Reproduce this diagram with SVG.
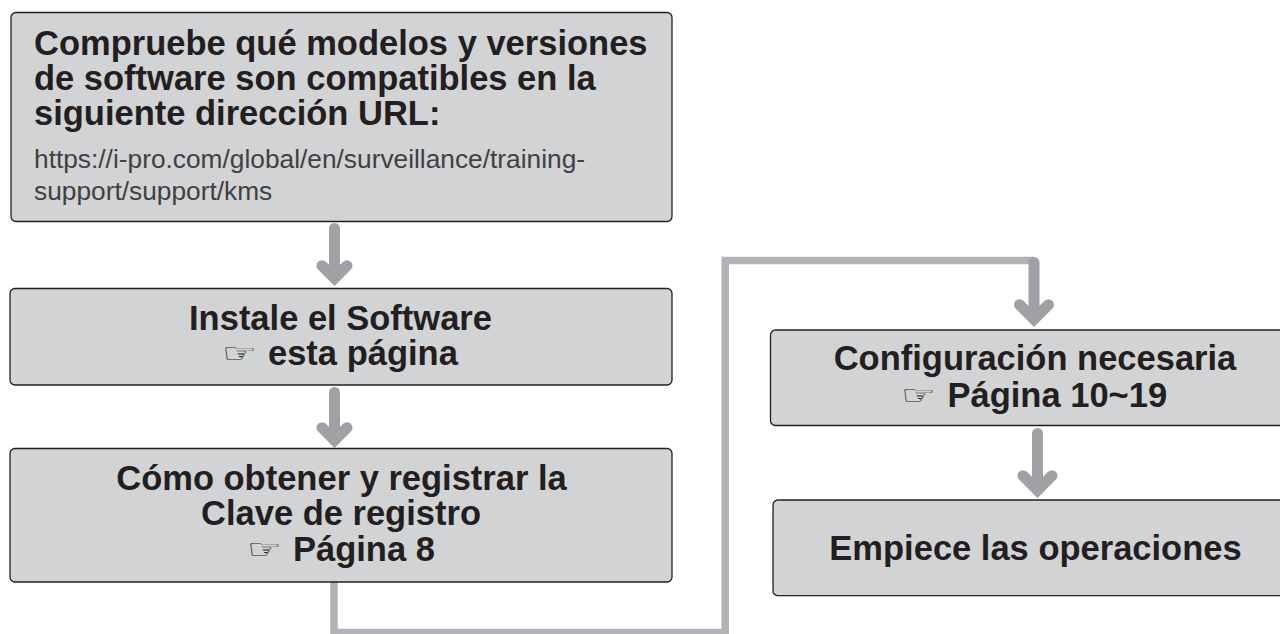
<svg xmlns="http://www.w3.org/2000/svg" width="1280" height="634" viewBox="0 0 1280 634">
<style>
.box{fill:#d1d3d4;stroke:#231f20;stroke-width:1.3}
.t{font-family:"Liberation Sans",Arial,sans-serif;font-weight:700;font-size:34.500px;fill:#231f20}
.c{text-anchor:middle}
.u{font-family:"Liberation Sans",Arial,sans-serif;font-size:26.300px;fill:#414042}
.h{font-family:"DejaVu Sans",sans-serif;font-size:26px;fill:#231f20}
.line{fill:none;stroke:#b1b3b6;stroke-width:7.500}
.shaft{fill:none;stroke:#a0a1a5;stroke-width:11;stroke-linecap:round}
.head{fill:none;stroke:#a0a1a5;stroke-width:11;stroke-linecap:round;stroke-linejoin:miter}
</style>
<defs>
<path id="arrow" class="head" d="M-12.500 -20.300L0 -7.800L12.500 -20.300"/>
<path id="arrow-large" class="head" d="M-14.500 -22.300L0 -7.800L14.500 -22.300"/>
</defs>
<g id="connectors">
<path class="line" d="M334 582V632.500H725.200V260.500H1034"/>
<path class="shaft" d="M334.500 228.500V278"/><use href="#arrow" x="334.500" y="286"/>
<path class="shaft" d="M334.500 392.500V440"/><use href="#arrow" x="334.500" y="448"/>
<path class="shaft" d="M1034 262.500V319"/><use href="#arrow-large" x="1034" y="327"/>
<path class="shaft" d="M1037.500 433.500V490"/><use href="#arrow-large" x="1037.500" y="498"/>
</g>
<g id="node1">
<rect class="box" x="11" y="12.500" width="661" height="209" rx="5"/>
<text class="t" x="34" y="54.500">Compruebe qué modelos y versiones</text>
<text class="t" x="34" y="89.500">de software son compatibles en la</text>
<text class="t" x="34" y="125">siguiente dirección URL:</text>
<text class="u" x="34" y="168">https://i-pro.com/global/en/surveillance/training-</text>
<text class="u" x="34" y="200">support/support/kms</text>
</g>
<g id="node2">
<rect class="box" x="10" y="288.500" width="662" height="96.500" rx="5"/>
<text class="t c" x="340.500" y="330">Instale el Software</text>
<text class="h" transform="translate(222 362) scale(1.5 1)">☞</text>
<text class="t" x="268" y="365">esta página</text>
</g>
<g id="node3">
<rect class="box" x="10" y="448.500" width="662" height="133.500" rx="5"/>
<text class="t c" x="341.500" y="490">Cómo obtener y registrar la</text>
<text class="t c" x="341" y="525">Clave de registro</text>
<text class="h" transform="translate(247 558) scale(1.5 1)">☞</text>
<text class="t" x="293" y="560.500">Página 8</text>
</g>
<g id="node4">
<rect class="box" x="770.500" y="330" width="516" height="95.500" rx="5"/>
<text class="t c" x="1035" y="370">Configuración necesaria</text>
<text class="h" transform="translate(901 403.500) scale(1.5 1)">☞</text>
<text class="t" x="947.500" y="406.500">Página 10~19</text>
</g>
<g id="node5">
<rect class="box" x="773" y="500" width="513" height="95.700" rx="5"/>
<text class="t c" x="1035.500" y="560">Empiece las operaciones</text>
</g>
</svg>
